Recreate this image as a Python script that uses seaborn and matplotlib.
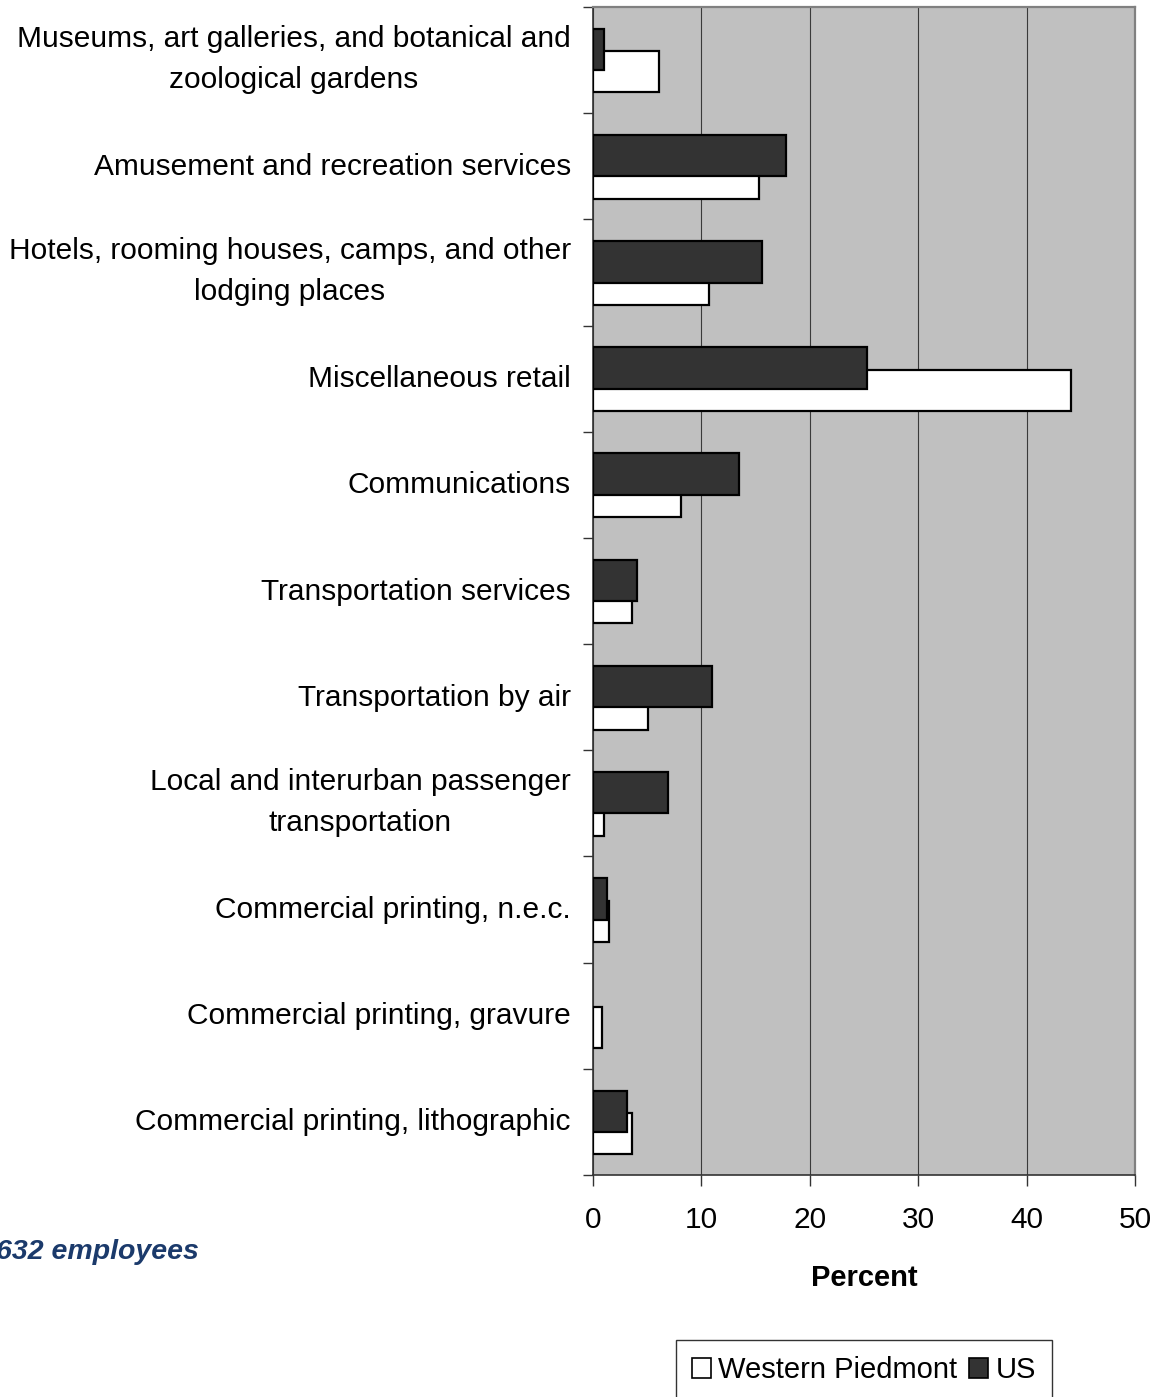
import matplotlib
matplotlib.use("Agg")
import matplotlib.pyplot as plt
import matplotlib.transforms as mtransforms
import seaborn as sns
import pandas as pd
from matplotlib.patches import Patch
from matplotlib.ticker import FixedLocator

categories = [
    "Museums, art galleries, and botanical and\nzoological gardens",
    "Amusement and recreation services",
    "Hotels, rooming houses, camps, and other\nlodging places",
    "Miscellaneous retail",
    "Communications",
    "Transportation services",
    "Transportation by air",
    "Local and interurban passenger\ntransportation",
    "Commercial printing, n.e.c.",
    "Commercial printing, gravure",
    "Commercial printing, lithographic",
]
western_piedmont = [6.1, 15.3, 10.7, 44.1, 8.1, 3.6, 5.1, 1.0, 1.5, 0.8, 3.6]
us = [1.0, 17.8, 15.6, 25.3, 13.5, 4.1, 11.0, 6.9, 1.3, 0.0, 3.1]
x_ticks = [0, 10, 20, 30, 40, 50]
series_names = ["Western Piedmont", "US"]
note_text = "632 employees"

sns.set_theme(style="white")
plt.rcParams["font.family"] = ["Liberation Sans", "DejaVu Sans"]
plt.rcParams["text.color"] = "black"
plt.rcParams["axes.labelcolor"] = "black"
plt.rcParams["xtick.color"] = "black"
plt.rcParams["ytick.color"] = "black"

W, H = 1161, 1397
fig = plt.figure(figsize=(W / 100, H / 100), dpi=100)
ax = fig.add_axes([593 / W, 1 - 1175 / H, (1135 - 593) / W, (1175 - 7) / H])

df_wp = pd.DataFrame({"cat": categories, "val": western_piedmont})
df_us = pd.DataFrame({"cat": categories, "val": us})

bar_h = 0.39
sns.barplot(data=df_wp, x="val", y="cat", orient="h", color="white",
            saturation=1, width=bar_h, edgecolor="black", linewidth=1.6,
            ax=ax, zorder=3)
n_wp = len(ax.patches)
sns.barplot(data=df_us, x="val", y="cat", orient="h", color="#333333",
            saturation=1, width=bar_h, edgecolor="black", linewidth=1.6,
            ax=ax, zorder=4)
for i, p in enumerate(ax.patches):
    if i < n_wp:
        p.set_y(p.get_y() + 0.11)
    else:
        p.set_y(p.get_y() - 0.10)
        if p.get_width() == 0:
            p.set_visible(False)

ax.set_facecolor("#C0C0C0")
ax.set_xlim(0, 50)
ax.set_ylim(len(categories) - 0.5, -0.5)
ax.set_xticks(x_ticks)
ax.set_xticklabels([str(t) for t in x_ticks], fontsize=21.5)
ax.xaxis.grid(True, color="#3a3a3a", linewidth=0.8, zorder=0)
ax.set_axisbelow(True)
ax.yaxis.grid(False)

ax.set_yticks(range(len(categories)))
ax.set_yticklabels(categories, fontsize=21.5, ma="center", linespacing=1.58)
ax.tick_params(axis="y", which="major", length=0, pad=16)
ax.yaxis.set_minor_locator(FixedLocator([i - 0.5 for i in range(len(categories) + 1)]))
ax.tick_params(axis="y", which="minor", length=7, width=1, color="#333333", left=True)
ax.tick_params(axis="x", which="major", length=8, width=1, color="#333333",
               bottom=True, direction="out", pad=14)

for lab in ax.get_yticklabels():
    dy = 10 if "\n" in lab.get_text() else 2.5
    off = mtransforms.ScaledTranslation(0, dy / 100, fig.dpi_scale_trans)
    lab.set_transform(lab.get_transform() + off)

ax.set_xlabel("Percent", fontsize=21, fontweight="bold", labelpad=22)
ax.set_ylabel("")

for s in ["top", "right"]:
    ax.spines[s].set_color("#808080")
    ax.spines[s].set_linewidth(1.6)
for s in ["left", "bottom"]:
    ax.spines[s].set_color("#333333")
    ax.spines[s].set_linewidth(1.2)

handles = [Patch(facecolor="white", edgecolor="black", linewidth=1.2, label=series_names[0]),
           Patch(facecolor="#333333", edgecolor="black", linewidth=1.2, label=series_names[1])]
leg = fig.legend(handles=handles, loc="upper left",
                 bbox_to_anchor=(676 / W, 1 - 1340 / H), ncol=2, fontsize=21,
                 frameon=True, fancybox=False, edgecolor="black",
                 handlelength=0.65, handleheight=0.65, handletextpad=0.25,
                 columnspacing=0.4, borderpad=0.55, borderaxespad=0)
leg.get_frame().set_linewidth(1.0)

fig.text(-4 / W, 1 - 1252 / H, note_text, ha="left", va="center",
         fontsize=20.5, fontweight="bold", fontstyle="italic", color="#1b3a6b")

fig.savefig("out.png", dpi=100)
